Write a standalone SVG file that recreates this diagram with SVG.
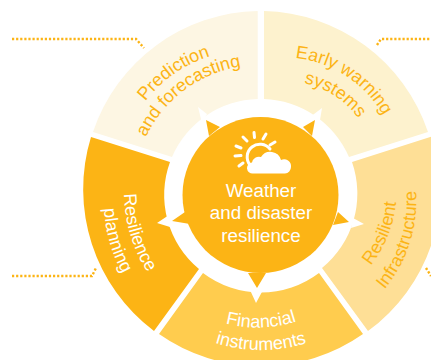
<svg xmlns="http://www.w3.org/2000/svg" width="431" height="360" viewBox="0 0 431 360">
<style>
text{font-family:"Liberation Sans",Arial,sans-serif;font-size:18px}
.w{fill:#fff}.o{fill:#fcb415}
.dot{fill:none;stroke:#fcb415;stroke-width:2.4;stroke-dasharray:2.2 1.9}
.m{text-anchor:middle}
.hub{fill:#fcb415}
.big{font-size:18.8px}
</style>
<defs>
<path id="p1" d="M145 102A130 130 0 0 1 211 56"/>
<path id="p2" d="M145 139A128 128 0 0 1 243 66"/>
<path id="p3" d="M296 58A115 115 0 0 1 383 115"/>
<path id="p4" d="M303 83A90 90 0 0 1 359 119"/>
<path id="p5" d="M124 193A150 150 0 0 0 148 273"/>
<path id="p6" d="M104 208A150 150 0 0 0 123 274"/>
<path id="p7" d="M371 265A120 120 0 0 0 396 203"/>
<path id="p8" d="M384 290A140 140 0 0 0 416 190"/>
<path id="p9" d="M224 323Q261 333 298 321"/>
<path id="p10" d="M212 342Q261 358 310 342"/>
</defs>
<g id="connectors">
<path class="dot" d="M12 39H136L144 48"/>
<path class="dot" d="M377 45L381 39H431"/>
<path class="dot" d="M12 276H92L96 268"/>
<path class="dot" d="M426 268L431 276"/>
</g>
<g id="prediction">
<path fill="#fdf6e3" d="M257.700 11A177.500 177.500 0 0 0 93 132L172 157A96 96 0 0 1 257.700 99Z"/>
<text class="o m"><textPath href="#p1" startOffset="50%">Prediction</textPath></text>
<text class="o m"><textPath href="#p2" startOffset="50%">and forecasting</textPath></text>
</g>
<g id="early-warning">
<path fill="#fdf2ce" d="M264 11A177.500 177.500 0 0 1 428 132L349 157A96 96 0 0 0 264 99Z"/>
<text class="o m"><textPath href="#p3" startOffset="50%">Early warning</textPath></text>
<text class="o m"><textPath href="#p4" startOffset="50%">systems</textPath></text>
</g>
<g id="resilient-infrastructure">
<path fill="#fedf96" d="M352 162L433 136A177.500 177.500 0 0 1 368 331L322 268A96 96 0 0 0 352 162Z"/>
<text class="o m"><textPath href="#p7" startOffset="50%">Resilient</textPath></text>
<text class="o m"><textPath href="#p8" startOffset="50%">Infrastructure</textPath></text>
</g>
<g id="financial-instruments">
<path fill="#ffcc4e" d="M159 334L203 273A96 96 0 0 0 319 273L363 334A177.500 177.500 0 0 1 159 334Z"/>
<text class="w m"><textPath href="#p9" startOffset="50%">Financial</textPath></text>
<text class="w m"><textPath href="#p10" startOffset="50%">instruments</textPath></text>
</g>
<g id="resilience-planning">
<path fill="#fcb415" d="M91 137L170 162A96 96 0 0 0 199 269L154 331A177.500 177.500 0 0 1 91 137Z"/>
<text class="w m"><textPath href="#p5" startOffset="50%">Resilience</textPath></text>
<text class="w m"><textPath href="#p6" startOffset="50%">planning</textPath></text>
</g>
<g id="hub">
<path fill="#fff" d="M198 107L207 114L202 123ZM322 108L320 120L310 117ZM364 224L351 228L353 218ZM256 303L250 290L263 290ZM157 223L172 213L170 227Z"/>
<path class="hub" d="M206 120L220 127L209 136ZM315 120L312 136L303 127ZM349 222L333 225L338 212ZM257 288L248 273L266 273ZM172 221L185 212L190 224Z"/>
<circle class="hub" cx="260.500" cy="195" r="78"/>
<g fill="none" stroke="#fff" stroke-width="3" stroke-linecap="round">
<path d="M236 146L241 148M235 156L241 155.500M239 166L243 163M243 137L247 141M254 132.500L254.500 137.500M266 134L263 139M275 142L270 145"/>
<path d="M270 149A12 12 0 1 0 250 165"/>
</g>
<path fill="#fff" d="M253 173.500A5.500 5.500 0 0 1 252 162.500A7 7 0 0 1 261 157A11 11 0 0 1 281 160A7 7 0 0 1 291 167A6.500 6.500 0 0 1 285 173.500Z"/>
<text class="w m big" x="261" y="197">Weather</text>
<text class="w m big" x="261" y="219">and disaster</text>
<text class="w m big" x="261" y="241.500">resilience</text>
</g>
</svg>
